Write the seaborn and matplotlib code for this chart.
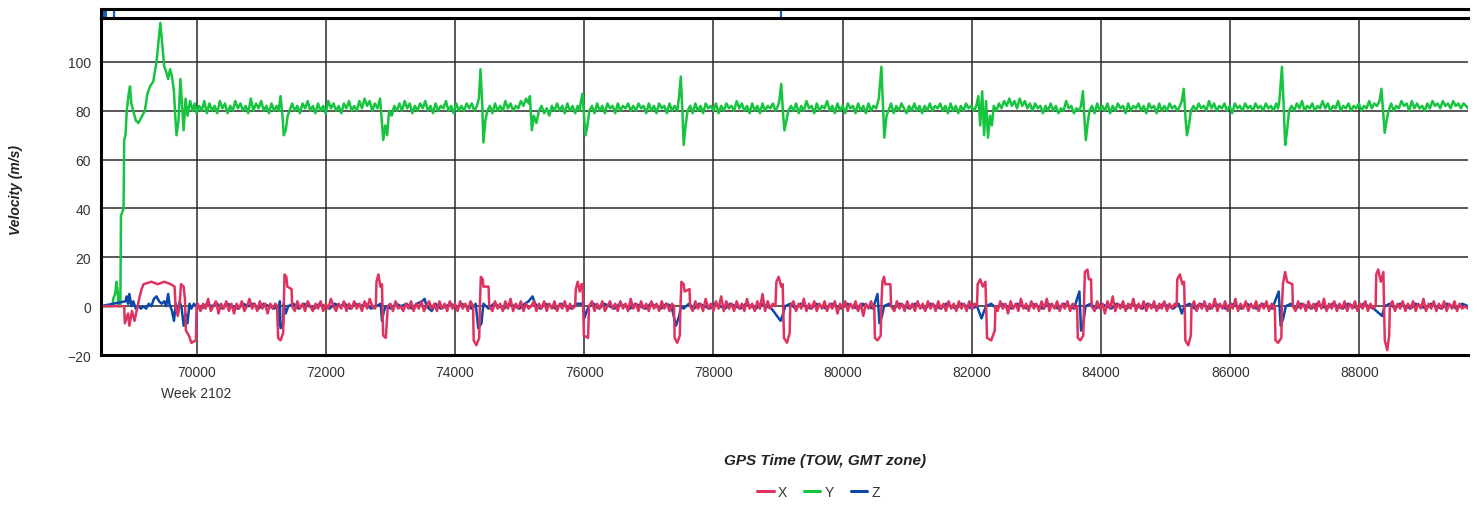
import matplotlib
matplotlib.use("Agg")
import matplotlib.pyplot as plt
import matplotlib.transforms as mtransforms
from matplotlib.lines import Line2D
import pandas as pd
import seaborn as sns

sns.set_style("white")
plt.rcParams["font.family"] = ["Liberation Sans", "DejaVu Sans"]

PALETTE = {"X": "#E0325F", "Y": "#17C43F", "Z": "#0A48AA"}
LEGEND_ORDER = ["X", "Y", "Z"]
DRAW_ORDER = ["Y", "Z", "X"]

X_TICKS = [70000, 72000, 74000, 76000, 78000, 80000, 82000, 84000, 86000, 88000]
Y_TICKS = [-20, 0, 20, 40, 60, 80, 100]
X_RANGE = (68520, 89680)
Y_RANGE = (-20, 118)

# navigator strip markers (TOW)
NAV_SPAN = (68551, 68613)
NAV_LINES = [68721, 79043]

# ---- velocity samples (TOW seconds, m/s) ----
X_POINTS = [
    (68520, 0), (68880, 0), (68890, -7), (68940, -3), (68960, -8), (69000, -2), (69040, -6),
    (69080, -1), (69120, 4), (69150, 7), (69180, 9), (69300, 10), (69400, 9), (69500, 10),
    (69600, 9), (69660, 8), (69675, 0), (69710, -4), (69740, 2), (69760, 9), (69800, 8), (69820, 3),
    (69835, -10), (69880, -12), (69920, -15), (69990, -14), (70000, 0),
    (70020, 1), (70060, -2), (70100, 1), (70140, -1), (70180, 3), (70220, -2), (70260, 0),
    (70300, 2), (70340, -3), (70380, 1), (70420, -1), (70460, 2), (70500, -2), (70540, 1),
    (70580, -3), (70620, 1), (70660, -1), (70700, 2), (70740, -2), (70780, 0), (70820, 3),
    (70860, -1), (70900, 1), (70940, -2), (70980, 2), (71020, -1), (71060, 1), (71100, -3),
    (71140, 1), (71180, -1), (71220, 1), (71250, 0),
    (71262, -13), (71300, -14), (71340, -11), (71350, 0), (71362, 13), (71390, 12), (71405, 8), (71470, 7), (71480, 0),
    (71520, -2), (71560, 2), (71600, -1), (71640, 1), (71680, -2), (71720, 2), (71760, 0),
    (71800, -2), (71840, 1), (71880, -1), (71920, 2), (71960, -2), (72000, 1), (72040, -1),
    (72080, 3), (72120, 0), (72160, -2), (72200, 1), (72240, -1), (72280, 2), (72320, -2),
    (72360, 1), (72400, -1), (72440, 2), (72480, -1), (72520, 1), (72560, -2), (72600, 2),
    (72640, -1), (72680, 3), (72720, 0), (72760, -1), (72775, 0),
    (72785, 10), (72815, 13), (72845, 8), (72870, 9), (72878, 0), (72888, -12), (72930, -13), (72950, -4), (72960, 0),
    (73000, 1), (73040, -2), (73080, 2), (73120, -1), (73160, 0), (73200, -2), (73240, 1),
    (73280, -1), (73320, 2), (73360, -2), (73400, 1), (73440, -1), (73480, 2), (73520, -2),
    (73560, 0), (73600, 2), (73640, -1), (73680, 1), (73720, -2), (73760, 2), (73800, -1),
    (73840, 1), (73880, -2), (73920, 2), (73960, -1), (74000, 1), (74040, -2), (74080, 2),
    (74120, -1), (74160, 1), (74200, -2), (74240, 2), (74280, 0),
    (74290, -14), (74330, -16), (74375, -13), (74385, 0), (74400, 12), (74430, 11), (74440, 8), (74520, 8), (74530, 0),
    (74580, -2), (74620, 2), (74660, -1), (74700, 1), (74740, -2), (74780, 2), (74820, -1),
    (74860, 3), (74900, -2), (74940, 1), (74980, -1), (75020, 2), (75060, -2), (75100, 1),
    (75140, -1), (75180, 0), (75220, 2), (75260, -2), (75300, 1), (75340, -1), (75380, 2),
    (75420, -2), (75460, 1), (75500, -1), (75540, 2), (75580, -2), (75620, 1), (75660, -1),
    (75700, 2), (75740, -2), (75780, 1), (75820, -1), (75860, 0),
    (75870, 7), (75900, 10), (75930, 6), (75960, 9), (75975, 9), (75985, 0), (75995, -12), (76060, -13), (76075, 0),
    (76120, 2), (76160, -2), (76200, 1), (76240, -1), (76280, 2), (76320, -2), (76360, 0),
    (76400, 2), (76440, -1), (76480, 1), (76520, -2), (76560, 2), (76600, -1), (76640, 1),
    (76680, -2), (76720, 3), (76760, -1), (76800, 1), (76840, -2), (76880, 2), (76920, -1),
    (76960, 1), (77000, -2), (77040, 2), (77080, -1), (77120, 1), (77160, -2), (77200, 2),
    (77240, -1), (77280, 1), (77320, -2), (77360, 1), (77390, 0),
    (77400, -13), (77440, -15), (77480, -12), (77490, 0), (77505, 10), (77540, 9), (77555, 6), (77630, 7), (77640, 0),
    (77680, -2), (77720, 2), (77760, -1), (77800, 1), (77840, -2), (77880, 3), (77920, -1),
    (77960, 1), (78000, -2), (78040, 2), (78080, -1), (78120, 4), (78160, -2), (78200, 2),
    (78240, -1), (78280, 1), (78320, -2), (78360, 2), (78400, -1), (78440, 1), (78480, -2),
    (78520, 3), (78560, -1), (78600, 1), (78640, -2), (78680, 2), (78720, -1), (78760, 5),
    (78800, -2), (78840, 2), (78880, -1), (78920, 1), (78960, 0),
    (78975, 10), (79010, 12), (79050, 8), (79072, 9), (79080, 0), (79092, -13), (79140, -15), (79180, -11), (79190, 0),
    (79240, 2), (79280, -2), (79320, 1), (79360, -1), (79400, 3), (79440, -2), (79480, 1),
    (79520, -1), (79560, 2), (79600, -2), (79640, 1), (79680, -1), (79720, 2), (79760, -2),
    (79800, 1), (79840, -1), (79880, 2), (79920, -3), (79960, 1), (80000, -1), (80040, 2),
    (80080, -2), (80120, 1), (80160, -1), (80200, 2), (80240, -2), (80280, 1), (80320, -4),
    (80360, 1), (80400, -1), (80440, 2), (80480, -1), (80490, 0),
    (80500, -13), (80540, -14), (80590, -12), (80600, 0), (80615, 10), (80640, 12), (80660, 9), (80740, 9), (80750, 0),
    (80800, -2), (80840, 2), (80880, -1), (80920, 1), (80960, -2), (81000, 2), (81040, -1),
    (81080, 1), (81120, -2), (81160, 2), (81200, -1), (81240, 1), (81280, -2), (81320, 2),
    (81360, -1), (81400, 1), (81440, -2), (81480, 2), (81520, -1), (81560, 1), (81600, -2),
    (81640, 2), (81680, -1), (81720, 1), (81760, -2), (81800, 2), (81840, -1), (81880, 1),
    (81920, -2), (81960, 2), (82000, -1), (82040, 1), (82080, 0),
    (82090, 9), (82130, 11), (82170, 8), (82210, 10), (82222, 0), (82235, -13), (82300, -14), (82355, -10), (82365, 0),
    (82400, -2), (82440, 2), (82480, -1), (82520, 1), (82560, -3), (82600, 2), (82640, -1),
    (82680, 1), (82720, -2), (82760, 3), (82800, -1), (82840, 1), (82880, -2), (82920, 2),
    (82960, -1), (83000, 1), (83040, -2), (83080, 2), (83120, -1), (83160, 3), (83200, -2),
    (83240, 1), (83280, -1), (83320, 2), (83360, -2), (83400, 1), (83440, -1), (83480, 2),
    (83520, -2), (83560, 1), (83600, -1), (83630, 0),
    (83640, -13), (83680, -14), (83725, -12), (83735, 0), (83750, 14), (83790, 15), (83810, 11), (83845, 11), (83855, 0),
    (83900, -2), (83940, 2), (83980, -1), (84020, 1), (84060, -3), (84100, 2), (84140, -1),
    (84180, 4), (84220, -2), (84260, 1), (84300, -1), (84340, 2), (84380, -2), (84420, 1),
    (84460, -1), (84500, 3), (84540, -2), (84580, 1), (84620, -1), (84660, 2), (84700, -2),
    (84740, 1), (84780, -1), (84820, 2), (84860, -2), (84900, 1), (84940, -1), (84980, 2),
    (85020, -2), (85060, 1), (85100, -1), (85140, 1), (85170, 0),
    (85180, 11), (85220, 13), (85260, 9), (85285, 10), (85295, 0), (85305, -14), (85350, -16), (85390, -12), (85400, 0),
    (85440, 2), (85480, -2), (85520, 1), (85560, -1), (85600, 2), (85640, -2), (85680, 1),
    (85720, -1), (85760, 3), (85800, -2), (85840, 1), (85880, -1), (85920, 2), (85960, -2),
    (86000, 1), (86040, -1), (86080, 3), (86120, -2), (86160, 1), (86200, -1), (86240, 2),
    (86280, -2), (86320, 1), (86360, -1), (86400, 2), (86440, -2), (86480, 1), (86520, -1),
    (86560, 2), (86600, -2), (86640, 1), (86680, -1), (86690, 0),
    (86700, -14), (86740, -15), (86790, -13), (86800, 0), (86815, 9), (86850, 14), (86880, 10), (86960, 9), (86970, 0),
    (87010, -2), (87050, 2), (87090, -1), (87130, 1), (87170, -2), (87210, 2), (87250, -1),
    (87290, 1), (87330, -2), (87370, 2), (87410, -1), (87450, 3), (87490, -2), (87530, 1),
    (87570, -1), (87610, 2), (87650, -2), (87690, 1), (87730, -1), (87770, 2), (87810, -2),
    (87850, 1), (87890, -1), (87930, 2), (87970, -2), (88010, 1), (88050, -1), (88090, 2),
    (88130, -2), (88170, 1), (88210, -1), (88250, 0),
    (88260, 13), (88290, 15), (88330, 10), (88370, 14), (88380, 0), (88392, -14), (88430, -18), (88460, -12), (88470, 0),
    (88510, 2), (88550, -2), (88590, 1), (88630, -1), (88670, 2), (88710, -2), (88750, 1),
    (88790, -1), (88830, 2), (88870, -2), (88910, 1), (88950, -1), (88990, 3), (89030, -2),
    (89070, 1), (89110, -1), (89150, 2), (89190, -2), (89230, 1), (89270, -1), (89310, 2),
    (89350, -2), (89390, 1), (89430, -1), (89470, 2), (89510, -2), (89550, 1), (89590, -1),
    (89630, 0), (89680, -1),
]

Y_POINTS = [
    (68520, 0), (68700, 0), (68710, 3), (68740, 5), (68760, 10), (68780, 6), (68790, 0),
    (68820, 0), (68830, 37), (68870, 40), (68880, 68), (68900, 70), (68920, 80), (68950, 87),
    (68970, 90), (68990, 83), (69020, 80), (69060, 76), (69100, 75), (69140, 77), (69200, 80),
    (69240, 87), (69280, 90), (69330, 92), (69380, 100), (69410, 108), (69440, 116), (69460, 110),
    (69480, 104), (69500, 98), (69530, 96), (69560, 93), (69590, 97), (69620, 94), (69650, 88),
    (69670, 78), (69690, 70), (69720, 76), (69750, 93), (69780, 80), (69800, 72), (69830, 85),
    (69860, 78), (69900, 84), (69940, 80), (69970, 83), (70000, 79),
    (70040, 82), (70080, 80), (70120, 84), (70160, 79), (70200, 83), (70240, 80), (70280, 82),
    (70320, 79), (70360, 84), (70400, 81), (70440, 83), (70480, 79), (70520, 82), (70560, 80),
    (70600, 84), (70640, 81), (70680, 83), (70720, 80), (70760, 82), (70800, 79), (70840, 85),
    (70880, 80), (70920, 83), (70960, 81), (71000, 84), (71040, 80), (71080, 82), (71120, 79),
    (71160, 83), (71200, 80), (71240, 82), (71270, 80),
    (71300, 86), (71330, 78), (71350, 70), (71380, 72), (71410, 78), (71440, 80),
    (71480, 83), (71520, 80), (71560, 82), (71600, 79), (71640, 83), (71680, 81), (71720, 84),
    (71760, 80), (71800, 82), (71840, 79), (71880, 83), (71920, 80), (71960, 82), (72000, 79),
    (72040, 84), (72080, 81), (72120, 83), (72160, 80), (72200, 82), (72240, 79), (72280, 83),
    (72320, 81), (72360, 84), (72400, 80), (72440, 82), (72480, 80), (72520, 84), (72560, 81),
    (72600, 85), (72640, 82), (72680, 84), (72720, 80), (72760, 83), (72800, 81),
    (72840, 85), (72870, 75), (72890, 68), (72920, 74), (72950, 70), (72980, 80),
    (73020, 78), (73060, 82), (73100, 80), (73140, 83), (73180, 80), (73220, 84), (73260, 81),
    (73300, 83), (73340, 79), (73380, 82), (73420, 80), (73460, 83), (73500, 81), (73540, 84),
    (73580, 80), (73620, 82), (73660, 79), (73700, 83), (73740, 80), (73780, 82), (73820, 81),
    (73860, 84), (73900, 80), (73940, 82), (73980, 79), (74020, 83), (74060, 80), (74100, 82),
    (74140, 80), (74180, 83), (74220, 81), (74260, 83), (74300, 80), (74340, 82),
    (74370, 85), (74395, 97), (74420, 84), (74440, 67), (74470, 76), (74500, 80),
    (74540, 82), (74580, 79), (74620, 83), (74660, 80), (74700, 82), (74740, 80), (74780, 84),
    (74820, 81), (74860, 83), (74900, 80), (74940, 82), (74980, 81), (75020, 84), (75060, 82),
    (75100, 85), (75140, 83), (75160, 86), (75190, 72), (75220, 78), (75260, 75), (75300, 80),
    (75340, 82), (75380, 79), (75420, 81), (75460, 78), (75500, 82), (75540, 80), (75580, 83),
    (75620, 80), (75660, 82), (75700, 79), (75740, 83), (75780, 80), (75820, 82), (75860, 79),
    (75900, 82), (75930, 80),
    (75950, 84), (75975, 87), (76000, 77), (76020, 70), (76050, 74), (76080, 80),
    (76120, 82), (76160, 79), (76200, 83), (76240, 80), (76280, 82), (76320, 79), (76360, 83),
    (76400, 81), (76440, 82), (76480, 79), (76520, 83), (76560, 80), (76600, 82), (76640, 81),
    (76680, 83), (76720, 80), (76760, 82), (76800, 80), (76840, 83), (76880, 81), (76920, 82),
    (76960, 79), (77000, 83), (77040, 80), (77080, 82), (77120, 79), (77160, 83), (77200, 81),
    (77240, 82), (77280, 79), (77320, 83), (77360, 80), (77400, 82), (77440, 80),
    (77470, 86), (77495, 94), (77520, 80), (77540, 66), (77570, 74), (77600, 80),
    (77640, 82), (77680, 79), (77720, 83), (77760, 80), (77800, 82), (77840, 79), (77880, 83),
    (77920, 81), (77960, 82), (78000, 80), (78040, 83), (78080, 79), (78120, 82), (78160, 80),
    (78200, 83), (78240, 81), (78280, 82), (78320, 80), (78360, 84), (78400, 81), (78440, 83),
    (78480, 80), (78520, 82), (78560, 79), (78600, 83), (78640, 80), (78680, 82), (78720, 79),
    (78760, 83), (78800, 80), (78840, 82), (78880, 81), (78920, 83), (78960, 80), (79000, 82),
    (79020, 84), (79050, 91), (79080, 78), (79100, 72), (79130, 76), (79160, 80),
    (79200, 82), (79240, 80), (79280, 83), (79320, 79), (79360, 82), (79400, 80), (79440, 84),
    (79480, 81), (79520, 82), (79560, 79), (79600, 83), (79640, 80), (79680, 82), (79720, 81),
    (79760, 84), (79800, 80), (79840, 82), (79880, 79), (79920, 83), (79960, 80), (80000, 82),
    (80040, 79), (80080, 83), (80120, 81), (80160, 82), (80200, 79), (80240, 83), (80280, 80),
    (80320, 82), (80360, 79), (80400, 83), (80440, 80), (80480, 82), (80520, 81),
    (80560, 85), (80600, 98), (80625, 82), (80645, 69), (80680, 78), (80710, 80),
    (80750, 83), (80790, 79), (80830, 82), (80870, 80), (80910, 83), (80950, 81), (80990, 79),
    (81030, 82), (81070, 80), (81110, 83), (81150, 80), (81190, 82), (81230, 79), (81270, 82),
    (81310, 80), (81350, 83), (81390, 80), (81430, 82), (81470, 81), (81510, 83), (81550, 80),
    (81590, 82), (81630, 79), (81670, 83), (81710, 80), (81750, 82), (81790, 79), (81830, 82),
    (81870, 80), (81910, 83), (81950, 81), (81990, 82), (82030, 80), (82070, 82),
    (82100, 86), (82130, 74), (82160, 88), (82190, 70), (82220, 84), (82250, 69), (82280, 78),
    (82310, 74), (82340, 82),
    (82380, 80), (82420, 83), (82460, 81), (82500, 84), (82540, 82), (82580, 85), (82620, 82),
    (82660, 84), (82700, 81), (82740, 85), (82780, 82), (82820, 84), (82860, 81), (82900, 83),
    (82940, 80), (82980, 83), (83020, 81), (83060, 82), (83100, 79), (83140, 82), (83180, 80),
    (83220, 83), (83260, 80), (83300, 82), (83340, 79), (83380, 81), (83420, 80), (83460, 84),
    (83500, 81), (83540, 82), (83580, 79), (83620, 81), (83660, 80),
    (83690, 82), (83720, 88), (83745, 76), (83765, 68), (83790, 74), (83820, 80),
    (83860, 82), (83900, 79), (83940, 83), (83980, 80), (84020, 82), (84060, 80), (84100, 83),
    (84140, 79), (84180, 82), (84220, 80), (84260, 83), (84300, 81), (84340, 82), (84380, 79),
    (84420, 83), (84460, 80), (84500, 82), (84540, 81), (84580, 83), (84620, 80), (84660, 82),
    (84700, 79), (84740, 83), (84780, 81), (84820, 82), (84860, 79), (84900, 83), (84940, 80),
    (84980, 82), (85020, 80), (85060, 83), (85100, 81), (85140, 82), (85180, 80), (85220, 82),
    (85250, 84), (85280, 89), (85310, 76), (85330, 70), (85360, 74), (85390, 80),
    (85430, 82), (85470, 80), (85510, 83), (85550, 81), (85590, 82), (85630, 80), (85670, 84),
    (85710, 81), (85750, 83), (85790, 80), (85830, 82), (85870, 81), (85910, 83), (85950, 80),
    (85990, 82), (86030, 79), (86070, 83), (86110, 81), (86150, 82), (86190, 80), (86230, 83),
    (86270, 81), (86310, 82), (86350, 80), (86390, 83), (86430, 81), (86470, 82), (86510, 80),
    (86550, 83), (86590, 81), (86630, 82), (86670, 80), (86710, 83), (86740, 81),
    (86760, 84), (86800, 98), (86830, 80), (86850, 66), (86880, 72), (86910, 80),
    (86950, 82), (86990, 80), (87030, 83), (87070, 81), (87110, 84), (87150, 80), (87190, 82),
    (87230, 81), (87270, 83), (87310, 80), (87350, 82), (87390, 81), (87430, 84), (87470, 81),
    (87510, 83), (87550, 80), (87590, 82), (87630, 81), (87670, 84), (87710, 80), (87750, 82),
    (87790, 81), (87830, 83), (87870, 80), (87910, 82), (87950, 81), (87990, 83), (88030, 80),
    (88070, 82), (88110, 81), (88150, 84), (88190, 81), (88230, 83), (88270, 82),
    (88310, 84), (88340, 89), (88370, 78), (88390, 71), (88420, 76), (88450, 80),
    (88490, 83), (88530, 80), (88570, 82), (88610, 81), (88650, 84), (88690, 82), (88730, 83),
    (88770, 80), (88810, 84), (88850, 81), (88890, 83), (88930, 81), (88970, 82), (89010, 80),
    (89050, 83), (89090, 81), (89130, 84), (89170, 82), (89210, 83), (89250, 81), (89290, 84),
    (89330, 82), (89370, 83), (89410, 81), (89450, 84), (89490, 82), (89530, 83), (89570, 81),
    (89610, 83), (89650, 82), (89680, 81),
]

Z_POINTS = [
    (68520, 0), (68900, 2), (68920, 4), (68940, 1), (68960, 5), (68990, 0), (69020, 2),
    (69060, -1), (69100, 0), (69140, -1), (69180, 0), (69220, -1), (69260, 1), (69300, 0),
    (69340, 3), (69380, 4), (69420, 2), (69460, 1), (69500, 2), (69530, 0), (69560, 5),
    (69580, 1), (69620, -2), (69650, -6), (69680, 1), (69710, -3), (69740, 2), (69770, -1),
    (69800, -8), (69830, -3), (69860, -7), (69890, 1), (69920, -1), (69960, 1), (70000, 0),
    (70080, -1), (70160, 1), (70240, 0), (70320, 1), (70400, -1), (70480, 1), (70560, 0),
    (70640, -1), (70720, 1), (70800, 0), (70880, 1), (70960, -1), (71040, 1), (71120, 0),
    (71200, -1), (71250, 0),
    (71262, -8), (71290, 2), (71300, -9), (71340, -7), (71350, 1), (71380, -3), (71420, 0),
    (71500, 1), (71580, -1), (71660, 1), (71740, 0), (71820, -1), (71900, 1), (71980, 0),
    (72060, -1), (72140, 1), (72220, 0), (72300, 1), (72380, -1), (72460, 1), (72540, 0),
    (72620, 1), (72700, -1), (72780, 0),
    (72850, 1), (72870, -6), (72900, -2), (72930, 0),
    (73010, -1), (73090, 1), (73170, 0), (73250, 1), (73330, -1), (73410, 1), (73490, 2),
    (73530, 3), (73560, 0), (73640, -2), (73700, 1), (73780, -1), (73860, 0), (73940, 1),
    (74020, -1), (74100, 1), (74180, 0), (74260, -1),
    (74320, 1), (74360, -9), (74410, -7), (74440, 1),
    (74520, -1), (74600, 1), (74680, 0), (74760, -1), (74840, 1), (74920, 0), (75000, -1),
    (75080, 1), (75140, 2), (75200, 4), (75240, 1), (75320, -1), (75400, 1), (75480, 0),
    (75560, -1), (75640, 1), (75720, 0), (75800, -1), (75880, 1),
    (75990, 1), (76000, -5), (76040, -2), (76070, 0),
    (76150, 1), (76230, -1), (76310, 1), (76390, 0), (76470, -1), (76550, 1), (76630, 0),
    (76710, -1), (76790, 1), (76870, 0), (76950, -1), (77030, 1), (77110, 0), (77190, -1),
    (77270, 1), (77350, 0),
    (77420, -8), (77470, -4), (77500, 0), (77540, -1),
    (77620, 1), (77700, -1), (77780, 1), (77860, 0), (77940, -1), (78020, 1), (78100, 0),
    (78180, -1), (78260, 1), (78340, 0), (78420, -1), (78500, 1), (78580, 0), (78660, -1),
    (78740, 1), (78820, 0), (78900, -1),
    (79040, -6), (79080, -3), (79110, 0),
    (79190, 1), (79270, -1), (79350, 1), (79430, 0), (79510, -1), (79590, 1), (79670, 0),
    (79750, -1), (79830, 1), (79910, 0), (79990, -1), (80070, 1), (80150, 0), (80230, -1),
    (80310, 1), (80390, 0), (80470, -1),
    (80540, 5), (80570, -7), (80610, -4), (80640, 0),
    (80720, 1), (80800, -1), (80880, 1), (80960, 0), (81040, -1), (81120, 1), (81200, 0),
    (81280, -1), (81360, 1), (81440, 0), (81520, -1), (81600, 1), (81680, 0), (81760, -1),
    (81840, 1), (81920, 0), (82000, -1), (82080, 0),
    (82150, -5), (82190, -2), (82220, 0),
    (82300, 1), (82380, -1), (82460, 1), (82540, 0), (82620, -1), (82700, 1), (82780, 0),
    (82860, -1), (82940, 1), (83020, 0), (83100, -1), (83180, 1), (83260, 0), (83340, -1),
    (83420, 1), (83500, 0), (83580, -1),
    (83665, 6), (83690, -10), (83730, -6), (83760, 0),
    (83840, 1), (83920, -1), (84000, 1), (84080, 0), (84160, -1), (84240, 1), (84320, 0),
    (84400, -1), (84480, 1), (84560, 0), (84640, -1), (84720, 1), (84800, 0), (84880, -1),
    (84960, 1), (85040, 0), (85120, -1), (85200, 1),
    (85250, -3), (85290, 0),
    (85370, 1), (85450, -1), (85530, 1), (85610, 0), (85690, -1), (85770, 1), (85850, 0),
    (85930, -1), (86010, 1), (86090, 0), (86170, -1), (86250, 1), (86330, 0), (86410, -1),
    (86490, 1), (86570, 0), (86650, -1),
    (86750, 6), (86780, -8), (86820, -5), (86860, 0),
    (86940, 1), (87020, -1), (87100, 1), (87180, 0), (87260, -1), (87340, 1), (87420, 0),
    (87500, -1), (87580, 1), (87660, 0), (87740, -1), (87820, 1), (87900, 0), (87980, -1),
    (88060, 1), (88140, 0), (88220, -1),
    (88350, -4), (88390, 0),
    (88470, 1), (88550, -1), (88630, 1), (88710, 0), (88790, -1), (88870, 1), (88950, 0),
    (89030, -1), (89110, 1), (89190, 0), (89270, -1), (89350, 1), (89430, 0), (89510, -1),
    (89590, 1), (89680, 0),
]

SERIES = {"X": X_POINTS, "Y": Y_POINTS, "Z": Z_POINTS}


def build_frame():
    rows = []
    for name, pts in SERIES.items():
        for t, v in pts:
            rows.append({"time": t, "velocity": v, "axis": name})
    return pd.DataFrame(rows)


df = build_frame()

fig = plt.figure(figsize=(14.8, 5.06), dpi=100)
ax = fig.add_axes([0.0682, 0.2964, 0.9237, 0.6661])

sns.lineplot(
    data=df, x="time", y="velocity", hue="axis", hue_order=DRAW_ORDER,
    palette=PALETTE, estimator=None, sort=False,
    lw=1.8, legend=False, ax=ax,
)

ax.set_xlim(*X_RANGE)
ax.set_ylim(*Y_RANGE)
ax.set_xticks(X_TICKS)
ax.set_yticks(Y_TICKS)
ax.set_xticklabels([str(t) for t in X_TICKS])
ax.tick_params(axis="both", length=0, labelsize=10, colors="#333333", pad=7)
ax.grid(True, color="#2b2b2b", lw=1.1)
ax.set_axisbelow(True)
ax.set_xlabel("")
ax.set_ylabel("")
for side in ["left", "bottom", "top"]:
    ax.spines[side].set_color("black")
    ax.spines[side].set_linewidth(2.2)
ax.spines["right"].set_visible(False)

trans = mtransforms.blended_transform_factory(ax.transData, ax.transAxes)
ax.text(70000, -0.113, "Week 2102", transform=trans, ha="center", va="center",
        fontsize=10, color="#333333")

# navigator strip on top
nav = fig.add_axes([0.0682, 0.9625, 0.9237, 0.0178])
nav.set_xlim(*X_RANGE)
nav.set_ylim(0, 1)
nav.axvspan(*NAV_SPAN, ymin=0.15, ymax=0.85, color="#1060C8", lw=0)
for x in NAV_LINES:
    nav.axvline(x, ymin=0.15, ymax=0.85, color="#1060C8", lw=1.6)
nav.set_xticks([])
nav.set_yticks([])
for side in ["top", "bottom", "left"]:
    nav.spines[side].set_color("black")
    nav.spines[side].set_linewidth(2.2)
nav.spines["right"].set_visible(False)

fig.text(0.011, 0.625, "Velocity (m/s)", rotation=90, ha="center", va="center",
         fontsize=10, fontweight="bold", fontstyle="italic", color="#222222")
fig.text(0.5574, 0.089, "GPS Time (TOW, GMT zone)", ha="center", va="center",
         fontsize=11, fontweight="bold", fontstyle="italic", color="#222222")

handles = [Line2D([0], [0], color=PALETTE[k], lw=2.2) for k in LEGEND_ORDER]
fig.legend(handles, LEGEND_ORDER, loc="center", bbox_to_anchor=(0.553, 0.026),
           ncol=3, frameon=False, fontsize=10, handlelength=1.2, handletextpad=0.3,
           columnspacing=1.2, labelcolor="#333333")

fig.savefig("out.png", dpi=100)
